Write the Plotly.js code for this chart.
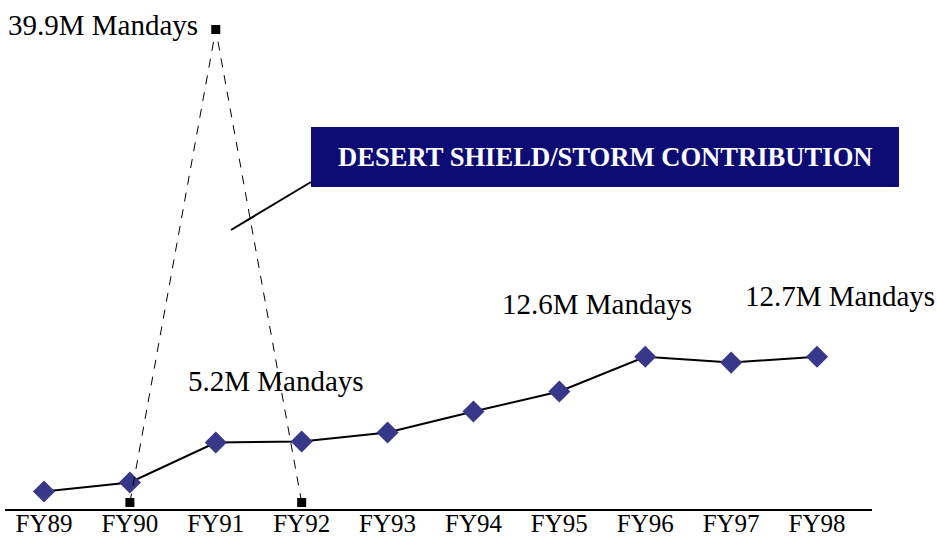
<!DOCTYPE html>
<html>
<head>
<meta charset="utf-8">
<script src="https://cdn.plot.ly/plotly-3.0.1.min.js"></script>
<style>html,body{margin:0;padding:0;background:#fff;}#chart{width:937px;height:537px;}</style>
</head>
<body>
<div id="chart"></div>
<script>
// Fiscal years (x categories)
var years = ['FY89','FY90','FY91','FY92','FY93','FY94','FY95','FY96','FY97','FY98'];
// Reserve component mandays (millions)
var mandays = [0.93, 1.69, 5.06, 5.15, 5.9, 7.68, 9.36, 12.3, 11.8, 12.3];
// Desert Shield/Storm contribution spike (millions of mandays)
var stormYears = ['FY90','FY91','FY92'];
var stormMandays = [0, 39.9, 0];
// Text labels
var labelTexts = ['39.9M Mandays','5.2M Mandays','12.6M Mandays','12.7M Mandays'];
var bannerText = 'DESERT SHIELD/STORM CONTRIBUTION';

var W = 937, H = 537;
var mL = 5, mR = 65, mT = 0, mB = 28;
var plotW = W - mL - mR, plotH = H - mT - mB;
function px(x){ return (x - mL) / plotW; }
function py(y){ return (H - mB - y) / plotH; }

var serif = 'Liberation Serif, Times New Roman, serif';

var traces = [
  {
    x: years, y: mandays, type: 'scatter', mode: 'lines+markers',
    line: {color: '#000000', width: 2},
    marker: {symbol: 'diamond', size: 17, color: '#38388A'},
    cliponaxis: false, hoverinfo: 'none'
  },
  {
    x: stormYears, y: stormMandays, type: 'scatter', mode: 'lines+markers',
    line: {color: '#000000', width: 1, dash: '9px,8px'},
    marker: {symbol: 'square', size: 9, color: '#000000'},
    cliponaxis: false, hoverinfo: 'none'
  }
];

var labelPos = [[103, 25], [276, 381], [597, 304], [840, 296]];
var annotations = labelTexts.map(function(t, i){
  return {
    text: t, xref: 'paper', yref: 'paper',
    x: px(labelPos[i][0]), y: py(labelPos[i][1]),
    xanchor: 'center', yanchor: 'middle', showarrow: false,
    font: {family: serif, size: 29, color: '#000000'}
  };
});
annotations.push({
  text: '<b>' + bannerText + '</b>', xref: 'paper', yref: 'paper',
  x: px(605), y: py(157), xanchor: 'center', yanchor: 'middle', showarrow: false,
  font: {family: serif, size: 26.6, color: '#FFFFFF'}
});

var layout = {
  width: W, height: H,
  margin: {l: mL, r: mR, t: mT, b: mB, pad: 0},
  paper_bgcolor: '#ffffff', plot_bgcolor: '#ffffff',
  showlegend: false,
  xaxis: {
    type: 'category', range: [-0.454, 9.64],
    showline: true, linecolor: '#000000', linewidth: 1.5,
    showgrid: false, zeroline: false, ticks: '',
    ticklabelstandoff: -9,
    tickfont: {family: serif, size: 25, color: '#000000'},
    automargin: false, fixedrange: true
  },
  yaxis: {
    range: [-0.548, 42.39], visible: false,
    showgrid: false, zeroline: false, fixedrange: true
  },
  shapes: [
    {type: 'rect', xref: 'paper', yref: 'paper',
     x0: px(311), x1: px(899), y0: py(187), y1: py(127),
     fillcolor: '#0C0C74', line: {width: 0}, layer: 'above'},
    {type: 'line', xref: 'paper', yref: 'paper',
     x0: px(231), y0: py(230), x1: px(311), y1: py(182),
     line: {color: '#000000', width: 2}}
  ],
  annotations: annotations
};

Plotly.newPlot('chart', traces, layout, {displayModeBar: false, staticPlot: true});
</script>
</body>
</html>
